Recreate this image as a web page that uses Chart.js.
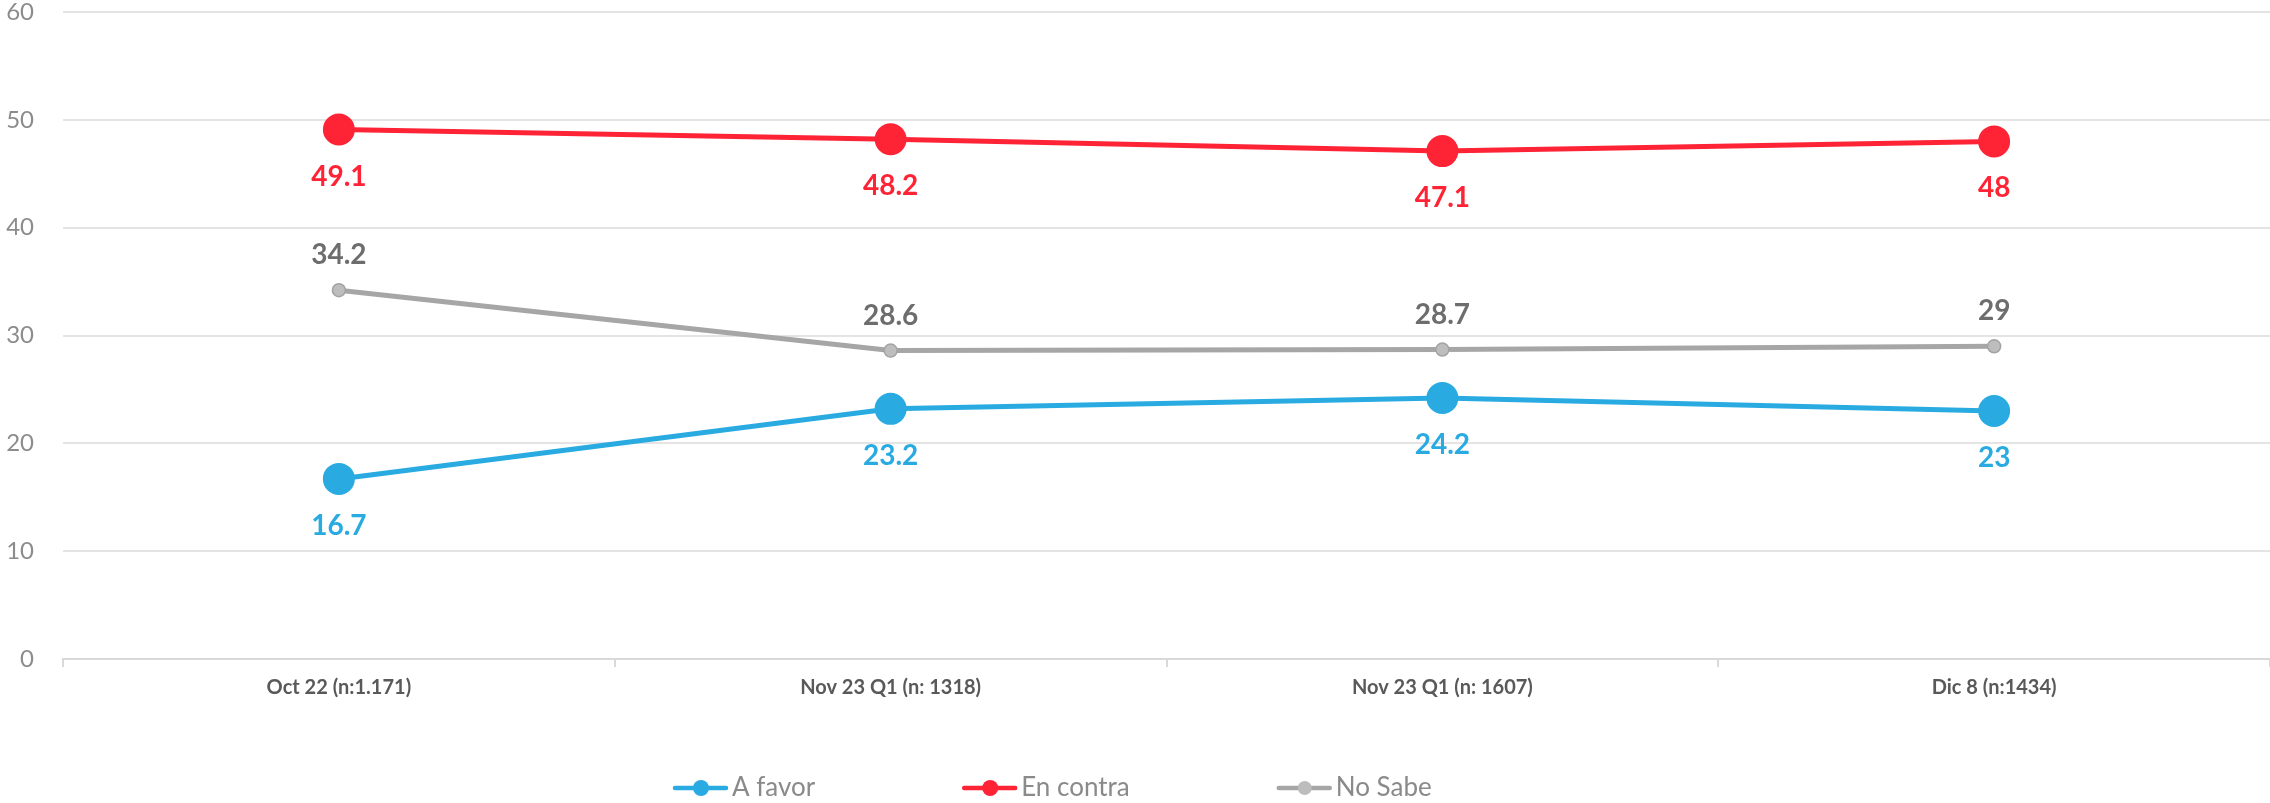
<!DOCTYPE html>
<html>
<head>
<meta charset="utf-8">
<script src="https://cdn.jsdelivr.net/npm/chart.js@4.4.1/dist/chart.umd.min.js"></script>
<style>
  body { margin: 0; background: #fff; }
  canvas { display: block; }
</style>
</head>
<body>
<canvas id="chart" width="2270" height="803"></canvas>
<script>
const categories = [
  "Oct 22 (n:1.171)",
  "Nov 23 Q1 (n: 1318)",
  "Nov 23 Q1 (n: 1607)",
  "Dic 8 (n:1434)",
];
const aFavor = [16.7, 23.2, 24.2, 23];
const enContra = [49.1, 48.2, 47.1, 48];
const noSabe = [34.2, 28.6, 28.7, 29];
const yTicks = [0, 10, 20, 30, 40, 50, 60];

const FONT = "Lato, 'Open Sans', sans-serif";

// value labels under / over each point
const valueLabels = {
  id: "valueLabels",
  afterDatasetsDraw(chart) {
    let ctx = chart.ctx;
    chart.data.datasets.forEach((ds, i) => {
      let meta = chart.getDatasetMeta(i);
      ctx.save();
      ctx.font = "bold 28px " + FONT;
      ctx.fillStyle = ds.labelColor;
      ctx.textAlign = "center";
      ctx.textBaseline = "middle";
      meta.data.forEach((pt, j) => {
        ctx.fillText(String(ds.data[j]), pt.x, pt.y + ds.labelOffset);
      });
      ctx.restore();
    });
  },
};

// legend with line + marker, like the original
const lineLegend = {
  id: "lineLegend",
  afterDraw(chart) {
    let ctx = chart.ctx;
    let x = 673;
    let y = 788;
    ctx.save();
    ctx.font = "26px " + FONT;
    ctx.textBaseline = "middle";
    chart.data.datasets.forEach((ds) => {
      ctx.strokeStyle = ds.borderColor;
      ctx.lineWidth = 4.5;
      ctx.lineCap = "round";
      ctx.beginPath();
      ctx.moveTo(x + 2, y);
      ctx.lineTo(x + 53, y);
      ctx.stroke();
      ctx.beginPath();
      ctx.arc(x + 28, y, ds.legendRadius, 0, Math.PI * 2);
      ctx.fillStyle = ds.pointBackgroundColor;
      ctx.fill();
      ctx.fillStyle = "#8a8a8a";
      ctx.fillText(ds.label, x + 59, y);
      x += 59 + ctx.measureText(ds.label).width + 147;
    });
    ctx.restore();
  },
};

let data = {
  labels: categories,
  datasets: [
    {
      label: "A favor",
      data: aFavor,
      borderColor: "#29abe2",
      backgroundColor: "#29abe2",
      pointBackgroundColor: "#29abe2",
      pointBorderColor: "#29abe2",
      borderWidth: 5,
      pointRadius: 13.5,
      labelColor: "#29abe2",
      labelOffset: 47,
      legendRadius: 8,
    },
    {
      label: "En contra",
      data: enContra,
      borderColor: "#ff2336",
      backgroundColor: "#ff2336",
      pointBackgroundColor: "#ff2336",
      pointBorderColor: "#ff2336",
      borderWidth: 5,
      pointRadius: 13.5,
      labelColor: "#ff2336",
      labelOffset: 47,
      legendRadius: 8,
    },
    {
      label: "No Sabe",
      data: noSabe,
      borderColor: "#a6a6a6",
      backgroundColor: "#a6a6a6",
      pointBackgroundColor: "#bdbdbd",
      pointBorderColor: "#a3a3a3",
      pointBorderWidth: 1.5,
      borderWidth: 5,
      pointRadius: 6.5,
      labelColor: "#6d6d6d",
      labelOffset: -35,
      legendRadius: 7,
    },
  ],
};

let options = {
  responsive: false,
  animation: false,
  layout: {
    autoPadding: false,
    padding: { top: 12, right: 0, bottom: 0, left: 0 },
  },
  plugins: {
    legend: { display: false },
    tooltip: { enabled: false },
  },
  elements: { line: { tension: 0 } },
  scales: {
    x: {
      offset: true,
      grid: {
        offset: true,
        drawOnChartArea: false,
        drawTicks: true,
        tickLength: 8,
        color: "#d9d9d9",
        lineWidth: 2,
      },
      border: { color: "#d9d9d9", width: 2 },
      ticks: {
        color: "#595959",
        font: { family: FONT, size: 20, weight: "bold" },
        padding: 9,
        maxRotation: 0,
      },
      afterFit: (axis) => {
        axis.height = 144;
        axis.paddingLeft = 0;
        axis.paddingRight = 0;
      },
    },
    y: {
      min: yTicks[0],
      max: yTicks[yTicks.length - 1],
      afterBuildTicks: (axis) => {
        axis.ticks = yTicks.map((v) => ({ value: v }));
      },
      grid: { color: "#e4e4e4", lineWidth: 2, drawTicks: false },
      border: { display: false },
      ticks: {
        color: "#8c8c8c",
        font: { family: FONT, size: 24 },
        padding: 29,
      },
      afterFit: (axis) => {
        axis.width = 63;
        axis.paddingTop = 0;
        axis.paddingBottom = 0;
      },
    },
  },
};

new Chart(document.getElementById("chart").getContext("2d"), {
  type: "line",
  data,
  options,
  plugins: [valueLabels, lineLegend],
});
</script>
</body>
</html>
